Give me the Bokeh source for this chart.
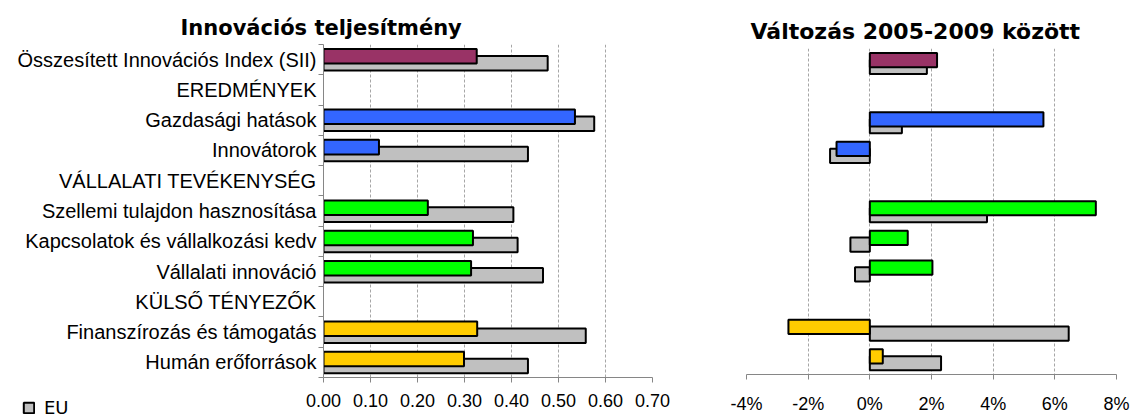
from bokeh.plotting import figure
from bokeh.layouts import GridBox
from bokeh.models import (Range1d, FixedTicker, NumeralTickFormatter, PrintfTickFormatter,
                          ColumnDataSource, Legend, LegendItem)
from bokeh.transform import dodge
from bokeh.embed import file_html
from bokeh.resources import INLINE

# ---------------- data ----------------
categories = [
    "Összesített Innovációs Index (SII)",
    "EREDMÉNYEK",
    "Gazdasági hatások",
    "Innovátorok",
    "VÁLLALATI TEVÉKENYSÉG",
    "Szellemi tulajdon hasznosítása",
    "Kapcsolatok és vállalkozási kedv",
    "Vállalati innováció",
    "KÜLSŐ TÉNYEZŐK",
    "Finanszírozás és támogatás",
    "Humán erőforrások",
]
indicators = [
    "Összesített Innovációs Index (SII)",
    "Gazdasági hatások",
    "Innovátorok",
    "Szellemi tulajdon hasznosítása",
    "Kapcsolatok és vállalkozási kedv",
    "Vállalati innováció",
    "Finanszírozás és támogatás",
    "Humán erőforrások",
]
group_colors = ["#993366", "#3366FF", "#3366FF", "#00FF00", "#00FF00", "#00FF00", "#FFCC00", "#FFCC00"]
hu_perf = [0.326, 0.535, 0.118, 0.222, 0.318, 0.314, 0.327, 0.299]
eu_perf = [0.477, 0.576, 0.435, 0.404, 0.413, 0.467, 0.558, 0.435]
hu_change = [2.18, 5.63, -1.08, 7.33, 1.23, 2.03, -2.64, 0.42]
eu_change = [1.85, 1.04, -1.29, 3.80, -0.63, -0.48, 6.45, 2.31]
perf_ticks = [0.0, 0.1, 0.2, 0.3, 0.4, 0.5, 0.6, 0.7]
change_ticks = [-4, -2, 0, 2, 4, 6, 8]
legend_label = "EU"
title_left = "Innovációs teljesítmény"
title_right = "Változás 2005-2009 között"

row_pos = [categories.index(c) for c in indicators]
src = ColumnDataSource(dict(y=row_pos, hu_perf=hu_perf, eu_perf=eu_perf,
                            hu_change=hu_change, eu_change=eu_change, color=group_colors))

LABEL_FONT = "Liberation Sans"
TITLE_FONT = "DejaVu Sans"
AXIS_GRAY = "#868686"
GRID_GRAY = "#a6a6a6"
EU_GRAY = "#C0C0C0"
HEIGHT = 419
n = len(categories)


def make_fig(width, x_range, ticks, mbl, mbr, mbt, mbb, title, standoff):
    p = figure(width=width, height=HEIGHT, x_range=x_range,
               y_range=Range1d(n - 0.5, -0.5), output_backend="svg",
               toolbar_location=None, min_border_left=mbl, min_border_right=mbr,
               min_border_top=mbt, min_border_bottom=mbb, title=title)
    p.frame_align = False
    p.outline_line_color = None
    p.background_fill_color = "white"
    p.border_fill_color = "white"
    p.ygrid.visible = False
    p.xgrid.ticker = FixedTicker(ticks=ticks)
    p.xgrid.grid_line_color = GRID_GRAY
    p.xgrid.grid_line_dash = "3 2"
    p.xgrid.grid_line_width = 1
    xa = p.xaxis[0]
    xa.ticker = FixedTicker(ticks=ticks)
    xa.axis_line_color = AXIS_GRAY
    xa.major_tick_line_color = AXIS_GRAY
    xa.major_tick_in = 0
    xa.major_tick_out = 5
    xa.minor_tick_line_color = None
    xa.major_label_text_font = LABEL_FONT
    xa.major_label_text_font_size = "18px"
    xa.major_label_text_color = "black"
    xa.major_label_standoff = standoff
    p.title.text_font = TITLE_FONT
    p.title.text_font_style = "bold"
    p.title.text_color = "black"
    p.title.align = "left"
    return p


def add_bars(p, eu_field, hu_field):
    eu_r = p.hbar(y=dodge("y", 0.12), left=0, right=eu_field, height=0.48,
                  fill_color=EU_GRAY, line_color="black", line_width=2, source=src)
    p.hbar(y=dodge("y", -0.11), left=0, right=hu_field, height=0.48,
           fill_color="color", line_color="black", line_width=2, source=src)
    return eu_r


# ---------------- left chart ----------------
p1 = make_fig(688, Range1d(0, 0.7), perf_ticks, 323, 36, 44, 42, title_left, 11)
p1.title.text_font_size = "21px"
p1.title.offset = -143
p1.title.standoff = 9
p1.xaxis[0].formatter = NumeralTickFormatter(format="0.00")
ya = p1.yaxis[0]
ya.ticker = FixedTicker(ticks=list(range(n)), minor_ticks=[i - 0.5 for i in range(n + 1)])
ya.major_label_overrides = {i: c for i, c in enumerate(categories)}
ya.axis_line_color = AXIS_GRAY
ya.major_tick_line_color = None
ya.major_tick_out = 0
ya.major_tick_in = 0
ya.minor_tick_line_color = AXIS_GRAY
ya.minor_tick_out = 5
ya.minor_tick_in = 0
ya.major_label_text_font = LABEL_FONT
ya.major_label_text_font_size = "20px"
ya.major_label_text_color = "black"
ya.major_label_standoff = 2
add_bars(p1, "eu_perf", "hu_perf")

# ---------------- right chart ----------------
p2 = make_fig(445, Range1d(-4, 8), change_ticks, 58, 17, 48, 45, title_right, 14)
p2.title.text_font_size = "22px"
p2.title.offset = 4
p2.title.standoff = 9
p2.xaxis[0].formatter = PrintfTickFormatter(format="%d%%")
p2.yaxis.visible = False
add_bars(p2, "eu_change", "hu_change")

# ---------------- legend (transparent overlay over the bottom-left corner) ----------------
# the key renderer is muted (fully transparent) and lies outside the visible y range;
# it only supplies the legend swatch
p3 = figure(width=110, height=HEIGHT, x_range=Range1d(0, 1), y_range=Range1d(100, 101),
            output_backend="svg", toolbar_location=None,
            x_axis_location=None, y_axis_location=None,
            min_border_left=0, min_border_right=0, min_border_top=0, min_border_bottom=0)
p3.frame_align = False
p3.grid.visible = False
p3.outline_line_color = None
p3.background_fill_color = None
p3.border_fill_color = None
eu_key = p3.hbar(y="y", left=0, right="eu_perf", height=0.5, fill_color=EU_GRAY,
                 line_color="black", line_width=2, source=src,
                 muted_fill_alpha=0, muted_line_alpha=0)
eu_key.muted = True
legend = Legend(items=[LegendItem(label=legend_label, renderers=[eu_key])],
                location=(22, 1), orientation="vertical",
                label_text_font=TITLE_FONT, label_text_font_size="18px",
                label_text_color="black",
                glyph_width=13, glyph_height=13, padding=0, margin=0,
                label_standoff=9, spacing=0, border_line_color=None,
                background_fill_alpha=0, inactive_fill_alpha=0)
p3.add_layout(legend)

layout = GridBox(children=[(p1, 0, 0), (p2, 0, 1), (p3, 0, 0)], spacing=0)
open("out.html", "w").write(file_html(layout, INLINE))
